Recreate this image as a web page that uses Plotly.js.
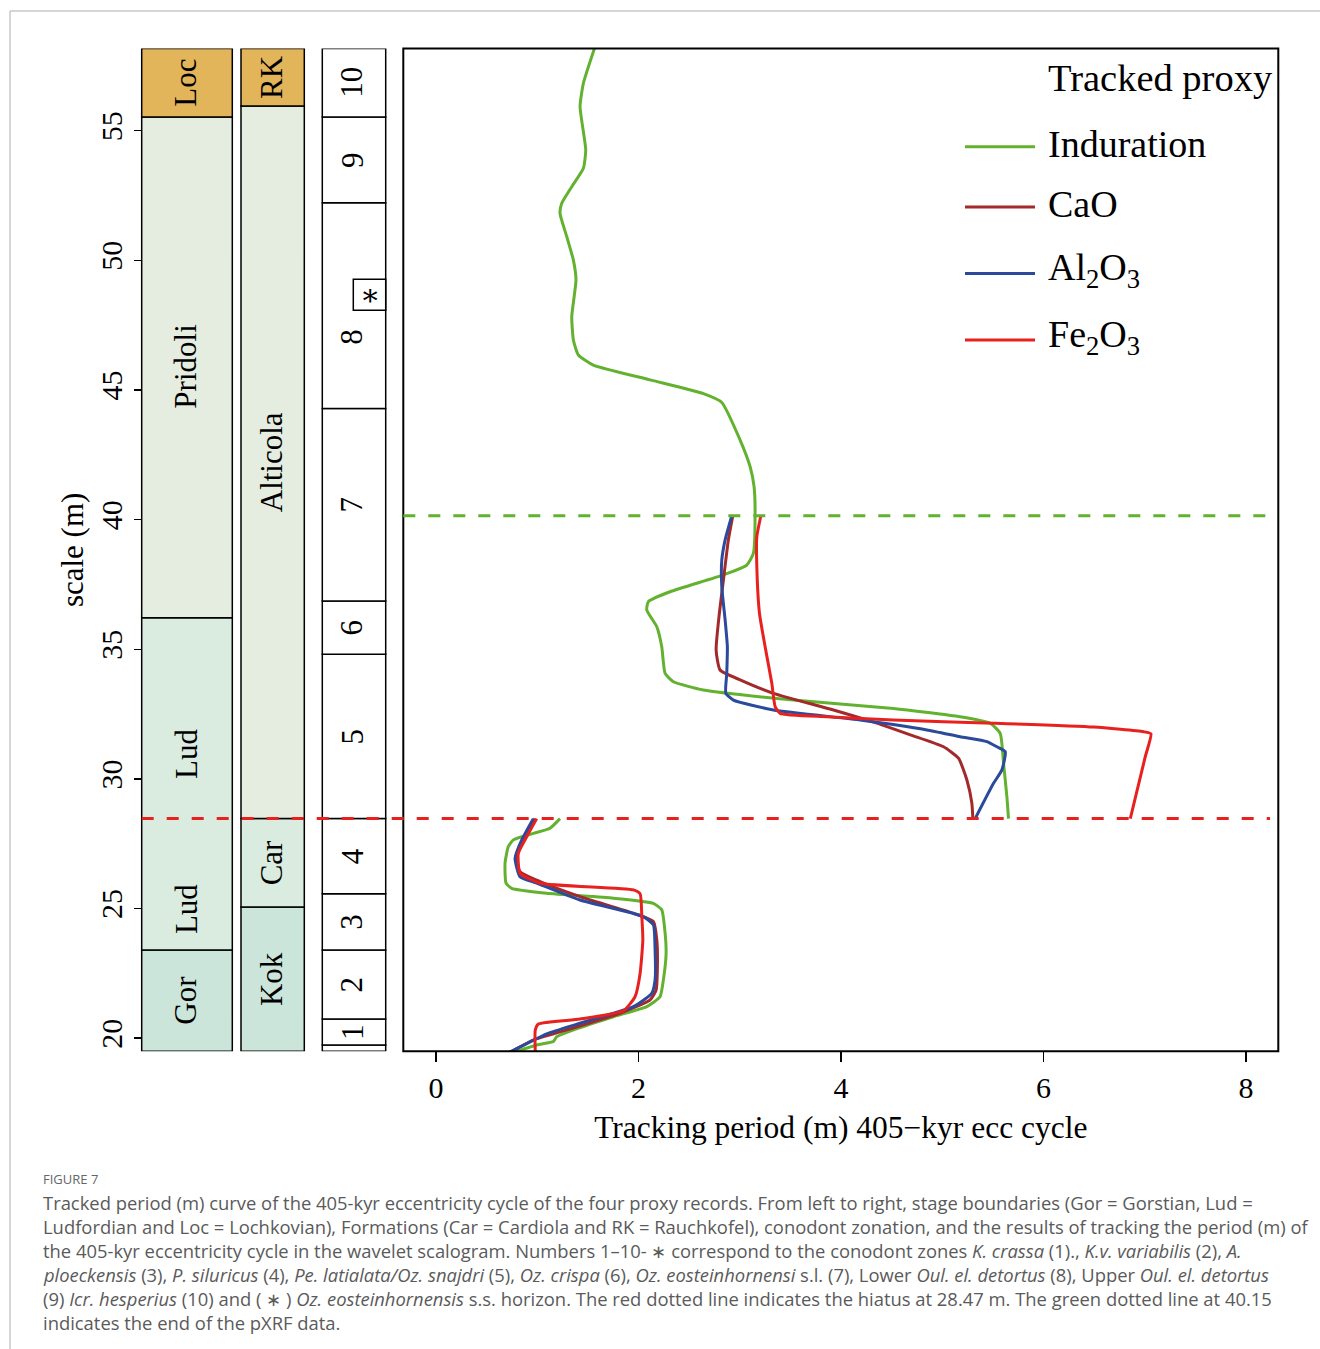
<!DOCTYPE html>
<html><head><meta charset="utf-8">
<script src="https://cdn.plot.ly/plotly-3.0.1.min.js"></script>
<style>html,body{margin:0;padding:0;background:#fff}#chart{width:1320px;height:1349px}</style>
</head><body><div id="chart"></div>
<script>
// ---------------- DATA ----------------
const proxyNames = ['Induration', 'CaO', 'Al<sub>2</sub>O<sub>3</sub>', 'Fe<sub>2</sub>O<sub>3</sub>'];
const proxyColors = ['#62B22F', '#A3292B', '#2C4A9C', '#E8211F'];

// Induration (above / below hiatus): depth (m) and tracked period (m)
const indUpDepth  = [58.24, 56.83, 55.93, 54.26, 53.55, 52.84, 52.20, 51.81, 50.91, 50.01, 49.24, 47.83, 46.93, 46.35, 45.96, 45.39, 44.85, 44.52, 43.07, 42.04, 41.27, 40.24, 38.70, 38.25, 37.87, 37.22, 36.84, 36.52, 35.87, 35.10, 34.07, 33.75, 33.43, 33.04, 32.72, 32.40, 32.15, 31.76, 30.60, 29.32, 28.47];
const indUpPeriod = [1.571, 1.456, 1.423, 1.479, 1.456, 1.341, 1.242, 1.225, 1.292, 1.357, 1.383, 1.341, 1.357, 1.406, 1.554, 2.115, 2.648, 2.823, 3.004, 3.103, 3.142, 3.152, 3.135, 3.070, 2.839, 2.312, 2.098, 2.082, 2.181, 2.230, 2.263, 2.345, 2.641, 3.531, 4.519, 5.178, 5.474, 5.573, 5.606, 5.639, 5.655];
const indLoDepth  = [28.47, 28.10, 27.90, 27.65, 27.39, 26.75, 25.98, 25.78, 25.59, 25.40, 25.20, 24.95, 24.05, 23.28, 22.25, 21.60, 21.22, 20.83, 20.32, 20.06, 19.87, 19.74, 19.40];
const indLoPeriod = [1.225, 1.126, 0.961, 0.764, 0.714, 0.682, 0.692, 0.748, 1.094, 1.752, 2.147, 2.230, 2.263, 2.273, 2.246, 2.213, 2.082, 1.752, 1.357, 1.193, 1.159, 0.995, 0.720];

// CaO
const caoUpDepth  = [40.15, 39.22, 37.67, 36.39, 34.97, 34.20, 33.82, 33.30, 32.66, 32.15, 31.70, 31.24, 30.80, 29.96, 29.06, 28.47];
const caoUpPeriod = [2.932, 2.888, 2.839, 2.799, 2.767, 2.806, 3.004, 3.333, 3.926, 4.355, 4.684, 5.013, 5.161, 5.244, 5.293, 5.303];
const caoLoDepth  = [28.47, 27.65, 27.00, 26.42, 26.04, 25.46, 24.82, 24.50, 23.79, 22.76, 21.86, 21.48, 20.96, 20.32, 19.93, 19.40];
const caoLoPeriod = [0.978, 0.863, 0.798, 0.830, 1.028, 1.423, 1.950, 2.147, 2.181, 2.187, 2.174, 2.115, 1.818, 1.292, 0.961, 0.700];

// Al2O3
const alUpDepth  = [40.15, 39.22, 38.44, 37.41, 36.13, 35.10, 34.07, 33.30, 33.04, 32.66, 32.27, 31.89, 31.63, 31.44, 31.24, 31.05, 30.35, 29.83, 28.47];
const alUpPeriod = [2.922, 2.856, 2.823, 2.823, 2.856, 2.878, 2.872, 2.863, 2.938, 3.333, 4.190, 4.849, 5.178, 5.442, 5.540, 5.623, 5.590, 5.507, 5.326];
const alLoDepth  = [28.47, 27.65, 26.94, 26.23, 25.98, 25.33, 24.69, 24.37, 23.40, 22.25, 21.73, 21.22, 20.58, 20.17, 19.40];
const alLoPeriod = [0.961, 0.847, 0.781, 0.830, 0.995, 1.423, 2.048, 2.147, 2.164, 2.164, 2.131, 1.950, 1.423, 1.094, 0.700];

// Fe2O3
const feUpDepth  = [40.15, 39.34, 38.19, 36.39, 35.10, 33.69, 32.79, 32.53, 32.40, 32.27, 32.15, 32.00, 31.82, 31.74, 30.86, 28.47];
const feUpPeriod = [3.209, 3.169, 3.169, 3.195, 3.251, 3.317, 3.350, 3.399, 3.861, 4.519, 5.507, 6.495, 6.989, 7.062, 7.006, 6.858];
const feLoDepth  = [28.47, 27.77, 27.13, 26.36, 25.98, 25.72, 25.57, 24.69, 23.79, 22.50, 21.60, 21.06, 20.74, 20.55, 20.32, 19.40];
const feLoPeriod = [0.995, 0.896, 0.813, 0.830, 1.028, 1.950, 2.016, 2.033, 2.043, 2.016, 1.966, 1.851, 1.423, 1.011, 0.981, 0.981];

// Reference lines
const hiatusDepth = 28.47;
const pxrfEndDepth = 40.15;

// Axis ticks
const periodTicks = [0, 2, 4, 6, 8];
const depthTicks = [20, 25, 30, 35, 40, 45, 50, 55];
const depthRange = [19.5, 58.17];

// Stage column
const stageBase  = [19.5, 23.4, 36.22, 55.53];
const stageTop   = [23.4, 36.22, 55.53, 58.17];
const stageFill  = ['#CCE5DA', '#DAEBDF', '#E4EDDF', '#E2B55A'];
const stageLabels = ['Gor', 'Lud', 'Lud', 'Pridoli', 'Loc'];
const stageLabelDepth = [21.45, 24.98, 30.96, 45.9, 56.85];

// Formation column
const formBase  = [19.5, 25.06, 28.47, 55.95];
const formTop   = [25.06, 28.47, 55.95, 58.17];
const formFill  = ['#CCE5DA', '#DAEBDF', '#E4EDDF', '#E2B55A'];
const formLabels = ['Kok', 'Car', 'Alticola', 'RK'];
const formLabelDepth = [22.27, 26.77, 42.2, 57.06];

// Conodont zones
const zoneBase   = [19.5, 19.74, 20.74, 23.4, 25.57, 28.47, 34.81, 36.86, 44.29, 52.22, 55.53];
const zoneTop    = [19.74, 20.74, 23.4, 25.57, 28.47, 34.81, 36.86, 44.29, 52.22, 55.53, 58.17];
const zoneLabels = ['', '1', '2', '3', '4', '5', '6', '7', '8', '9', '10'];
const zoneLabelDepth = [19.6, 20.24, 22.07, 24.49, 27.02, 31.64, 35.84, 40.58, 47.05, 53.87, 56.85];
const starBase = 48.08, starTop = 49.27;

const captionHead = 'FIGURE 7';
const captionLines = [
  'Tracked period (m) curve of the 405-kyr eccentricity cycle of the four proxy records. From left to right, stage boundaries (Gor = Gorstian, Lud =',
  'Ludfordian and Loc = Lochkovian), Formations (Car = Cardiola and RK = Rauchkofel), conodont zonation, and the results of tracking the period (m) of',
  'the 405-kyr eccentricity cycle in the wavelet scalogram. Numbers 1–10- ∗ correspond to the conodont zones <i>K. crassa</i> (1)., <i>K.v. variabilis</i> (2), <i>A.</i>',
  '<i>ploeckensis</i> (3), <i>P. siluricus</i> (4), <i>Pe. latialata/Oz. snajdri</i> (5), <i>Oz. crispa</i> (6), <i>Oz. eosteinhornensi</i> s.l. (7), Lower <i>Oul. el. detortus</i> (8), Upper <i>Oul. el. detortus</i>',
  '(9) <i>Icr. hesperius</i> (10) and ( ∗ ) <i>Oz. eosteinhornensis</i> s.s. horizon. The red dotted line indicates the hiatus at 28.47 m. The green dotted line at 40.15',
  'indicates the end of the pXRF data.'
];

// ---------------- LAYOUT HELPERS ----------------
const W = 1320, H = 1349;
const PX = v => v / W;
const PY = v => 1 - v / H;
const SERIF = 'Liberation Serif, Times New Roman, serif';
const SANS = 'Open Sans, Lato, sans-serif';

const up = [[indUpPeriod, indUpDepth], [caoUpPeriod, caoUpDepth], [alUpPeriod, alUpDepth], [feUpPeriod, feUpDepth]];
const lo = [[indLoPeriod, indLoDepth], [caoLoPeriod, caoLoDepth], [alLoPeriod, alLoDepth], [feLoPeriod, feLoDepth]];

const traces = proxyNames.map((n, i) => ({
  type: 'scatter', mode: 'lines', name: n,
  x: up[i][0].concat([null], lo[i][0]),
  y: up[i][1].concat([null], lo[i][1]),
  line: {color: proxyColors[i], width: 3, shape: 'spline', smoothing: 0.5},
  connectgaps: false, showlegend: false, hoverinfo: 'skip'
}));

const shapes = [];
const annotations = [];

// outer gray figure frame
shapes.push({type: 'line', xref: 'paper', yref: 'paper', x0: PX(10), x1: 1, y0: PY(11), y1: PY(11), line: {color: '#C9C9C9', width: 1.5}});
shapes.push({type: 'line', xref: 'paper', yref: 'paper', x0: PX(10), x1: PX(10), y0: PY(11), y1: 0, line: {color: '#C9C9C9', width: 1.5}});

function column(x0, x1, bases, tops, fills) {
  bases.forEach((b, i) => {
    shapes.push({type: 'rect', xref: 'paper', yref: 'y', x0: PX(x0), x1: PX(x1), y0: b, y1: tops[i],
      fillcolor: fills ? fills[i] : '#FFFFFF', line: {color: '#000', width: 1.5}, layer: 'above'});
  });
}
const col1 = [141.7, 232.3], col2 = [241, 304.3], col3 = [322.3, 385.7];
column(col1[0], col1[1], stageBase, stageTop, stageFill);
column(col2[0], col2[1], formBase, formTop, formFill);
column(col3[0], col3[1], zoneBase, zoneTop, null);
shapes.push({type: 'rect', xref: 'paper', yref: 'y', x0: PX(353.3), x1: PX(385.7), y0: starBase, y1: starTop,
  fillcolor: '#FFFFFF', line: {color: '#000', width: 1.5}, layer: 'above'});

function labels(cx, texts, depths) {
  texts.forEach((t, i) => {
    if (!t) return;
    annotations.push({xref: 'paper', yref: 'y', x: PX(cx), y: depths[i], text: t, textangle: -90,
      showarrow: false, xanchor: 'center', yanchor: 'middle', font: {family: SERIF, size: 31, color: '#000'}});
  });
}
labels((col1[0] + col1[1]) / 2 - 1, stageLabels, stageLabelDepth);
labels((col2[0] + col2[1]) / 2 - 1, formLabels, formLabelDepth);
labels((col3[0] + col3[1]) / 2 - 2, zoneLabels, zoneLabelDepth);
annotations.push({xref: 'paper', yref: 'y', x: PX(369.5), y: (starBase + starTop) / 2, text: '∗', showarrow: false,
  xanchor: 'center', yanchor: 'middle', font: {family: 'DejaVu Serif', size: 30, color: '#000'}});

// main plot frame
shapes.push({type: 'rect', xref: 'x domain', yref: 'y domain', x0: 0, x1: 1, y0: 0, y1: 1,
  line: {color: '#000', width: 2}, layer: 'above'});

// dashed reference lines
shapes.push({type: 'line', xref: 'paper', yref: 'y', x0: PX(141.7), x1: PX(1270), y0: hiatusDepth, y1: hiatusDepth,
  line: {color: '#E8211F', width: 3, dash: '12px,13px'}, layer: 'above'});
shapes.push({type: 'line', xref: 'paper', yref: 'y', x0: PX(403.3), x1: PX(1270), y0: pxrfEndDepth, y1: pxrfEndDepth,
  line: {color: '#62B22F', width: 3, dash: '12px,13px'}, layer: 'above'});

// legend (drawn manually)
const legY = [146.7, 207, 273.5, 340];
annotations.push({xref: 'paper', yref: 'paper', x: PX(1046), y: PY(78), text: 'Tracked proxy', showarrow: false,
  xanchor: 'left', yanchor: 'middle', font: {family: SERIF, size: 38.5, color: '#000'}});
proxyNames.forEach((n, i) => {
  shapes.push({type: 'line', xref: 'paper', yref: 'paper', x0: PX(965), x1: PX(1035), y0: PY(legY[i]), y1: PY(legY[i]),
    line: {color: proxyColors[i], width: 3}});
  annotations.push({xref: 'paper', yref: 'paper', x: PX(1046), y: PY(legY[i] - 3), text: n, showarrow: false,
    xanchor: 'left', yanchor: 'middle', font: {family: SERIF, size: 38, color: '#000'}});
});

// caption
annotations.push({xref: 'paper', yref: 'paper', x: PX(41), y: PY(1179), text: captionHead, showarrow: false,
  xanchor: 'left', yanchor: 'middle', font: {family: SANS, size: 13, color: '#666666'}});
captionLines.forEach((t, i) => {
  annotations.push({xref: 'paper', yref: 'paper', x: PX(41), y: PY(1202 + 24 * i), text: t, showarrow: false,
    xanchor: 'left', yanchor: 'middle', align: 'left', font: {family: SANS, size: 18.4, color: '#5A5A5A'}});
});

const layout = {
  width: W, height: H, margin: {l: 0, r: 0, t: 0, b: 0},
  paper_bgcolor: '#FFFFFF', plot_bgcolor: 'rgba(0,0,0,0)',
  font: {family: SERIF, color: '#000'},
  showlegend: false,
  xaxis: {
    domain: [PX(403.3), PX(1278.3)], range: [-0.323, 8.32], anchor: 'y',
    tickmode: 'array', tickvals: periodTicks, ticktext: periodTicks.map(String),
    ticks: 'outside', ticklen: 10, tickwidth: 1.5, tickcolor: '#000',
    showgrid: false, zeroline: false, showline: false,
    tickfont: {family: SERIF, size: 30, color: '#000'},
    title: {text: 'Tracking period (m) 405−kyr ecc cycle', font: {family: SERIF, size: 31.5, color: '#000'}, standoff: 12}
  },
  yaxis: {
    domain: [PY(1051.2), PY(48.5)], range: depthRange, anchor: 'free', position: PX(141.7),
    tickmode: 'array', tickvals: depthTicks, ticktext: depthTicks.map(String),
    ticks: 'outside', ticklen: 8, tickwidth: 1.5, tickcolor: '#000', tickangle: -90,
    showgrid: false, zeroline: false, showline: false,
    tickfont: {family: SERIF, size: 30, color: '#000'},
    title: {text: 'scale (m)', font: {family: SERIF, size: 31, color: '#000'}, standoff: 0}
  },
  shapes: shapes,
  annotations: annotations
};

Plotly.newPlot('chart', traces, layout, {staticPlot: true, displayModeBar: false});
</script></body></html>
